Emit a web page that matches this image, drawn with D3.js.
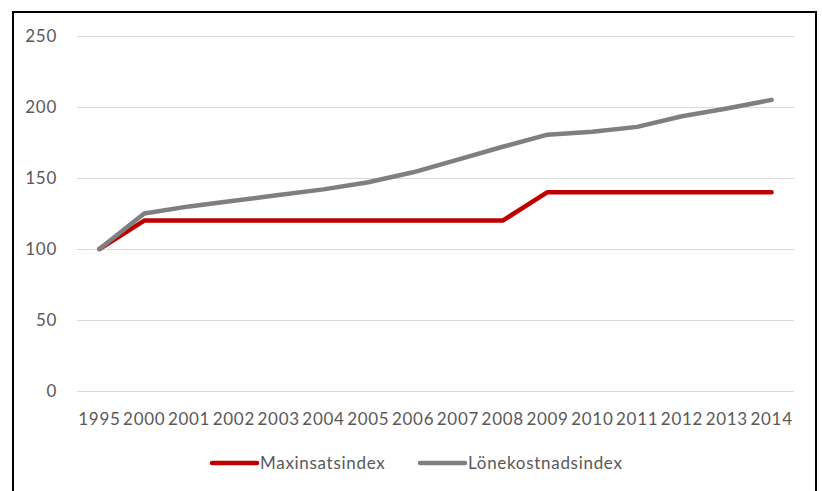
<!DOCTYPE html>
<html>
<head>
<meta charset="utf-8">
<script src="https://cdn.jsdelivr.net/npm/d3@7"></script>
<style>
  body { margin: 0; background: #fff; }
  text { font-family: Lato, "Liberation Sans", sans-serif; fill: #595959; letter-spacing: 0.7px; }
</style>
</head>
<body>
<svg width="822" height="491"></svg>
<script>
const years = ['1995', '2000', '2001', '2002', '2003', '2004', '2005', '2006',
    '2007', '2008', '2009', '2010', '2011', '2012', '2013', '2014']
const maxinsats = [100, 120, 120, 120, 120, 120, 120, 120, 120, 120, 140, 140, 140, 140, 140, 140]
const lonekostnad = [100, 125, 130, 134, 138, 142, 147, 154, 163, 172, 180.5, 182.5, 186, 193.5, 199, 205]
const yTicks = [0, 50, 100, 150, 200, 250]
const seriesNames = ['Maxinsatsindex', 'Lönekostnadsindex']
const seriesColors = ['#c00000', '#7f7f7f']

const svg = d3.select('svg')

// frame around the chart
svg.append('rect')
    .attr('x', 13)
    .attr('y', 12)
    .attr('width', 803)
    .attr('height', 490)
    .attr('fill', 'none')
    .attr('stroke', '#000')
    .attr('stroke-width', 2)

const x = d3.scaleBand()
    .domain(years)
    .range([77, 794])

const y = d3.scaleLinear()
    .domain([0, 250])
    .range([391, 36])

// gridlines
svg.append('g')
    .selectAll('line')
    .data(yTicks)
    .join('line')
        .attr('x1', 77)
        .attr('x2', 794)
        .attr('y1', d => y(d) + 0.5)
        .attr('y2', d => y(d) + 0.5)
        .attr('stroke', '#d9d9d9')
        .attr('stroke-width', 1)

// y labels
svg.append('g')
    .selectAll('text')
    .data(yTicks)
    .join('text')
        .attr('x', 57)
        .attr('y', d => y(d))
        .attr('dy', '0.35em')
        .attr('text-anchor', 'end')
        .attr('font-size', 17)
        .text(d => d)

// x labels
svg.append('g')
    .selectAll('text')
    .data(years)
    .join('text')
        .attr('x', d => x(d) + x.bandwidth() / 2)
        .attr('y', 419)
        .attr('dy', '0.35em')
        .attr('text-anchor', 'middle')
        .attr('font-size', 17)
        .text(d => d)

const line = d3.line()
    .x((d, i) => x(years[i]) + x.bandwidth() / 2)
    .y(d => y(d))

const series = [maxinsats, lonekostnad]

svg.append('g')
    .selectAll('path')
    .data(series)
    .join('path')
        .attr('d', line)
        .attr('fill', 'none')
        .attr('stroke', (d, i) => seriesColors[i])
        .attr('stroke-width', 4.5)
        .attr('stroke-linejoin', 'round')
        .attr('stroke-linecap', 'round')

// legend
const legendX = [212, 420]
const legend = svg.append('g')
    .selectAll('g')
    .data(seriesNames)
    .join('g')
        .attr('transform', (d, i) => `translate(${legendX[i]},463)`)

legend.append('line')
    .attr('x1', 0)
    .attr('x2', 45)
    .attr('stroke', (d, i) => seriesColors[i])
    .attr('stroke-width', 4.5)
    .attr('stroke-linecap', 'round')

legend.append('text')
    .attr('x', 48)
    .attr('dy', '0.35em')
    .attr('font-size', 17)
    .text(d => d)
</script>
</body>
</html>
